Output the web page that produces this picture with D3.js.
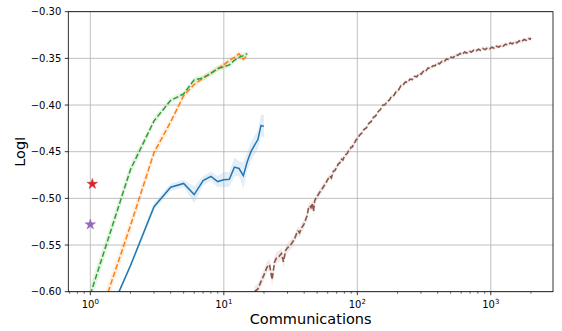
<!DOCTYPE html>
<html><head><meta charset="utf-8">
<script src="https://cdn.jsdelivr.net/npm/d3@7"></script>
<style>body{margin:0;background:#fff}text{font-family:"DejaVu Sans",sans-serif}</style>
</head><body><svg id="c" width="562" height="331"></svg>
<script>
// ---- data ----
const blueC = [1,2,3,4,5,6,7,8,9,10,11,12,13,14,15,16,17,18,19,20];
const blueV = [-0.670,-0.572,-0.509,-0.488,-0.484,-0.496,-0.481,-0.4765,-0.482,-0.480,-0.4795,-0.4665,-0.468,-0.4757,-0.4605,-0.4497,-0.443,-0.437,-0.4218,-0.4229];
const blueS = [0.003,0.003,0.004,0.004,0.004,0.009,0.005,0.005,0.006,0.008,0.008,0.010,0.008,0.014,0.010,0.010,0.010,0.010,0.012,0.012];
const orangeC = [1,2,3,4,5,6,7,8,9,10,11,12,13,14,15];
const orangeV = [-0.657,-0.529,-0.451,-0.418,-0.390,-0.378,-0.371,-0.366,-0.361,-0.357,-0.352,-0.349,-0.345,-0.351,-0.347];
const orangeS = [0.010,0.008,0.006,0.005,0.004,0.003,0.003,0.003,0.003,0.003,0.003,0.003,0.003,0.003,0.003];
const greenC = [1,2,3,4,5,6,7,8,9,10,11,12,13,14,15];
const greenV = [-0.603,-0.469,-0.417,-0.395,-0.388,-0.373,-0.371,-0.366,-0.361,-0.359,-0.357,-0.352,-0.349,-0.347,-0.345];
const greenS = [0.010,0.006,0.004,0.003,0.003,0.003,0.003,0.003,0.003,0.003,0.003,0.003,0.003,0.003,0.003];
const brownC = [
  17,18,19,20,21,22,23,24,25,26,
  27,28,29,30,31,32,33,34,35,36,
  37,38,39,40,41,42,43,44,45,46,
  47,48,49,50,52,54,56,58,
  60,62,64,66,68,70,72,74,76,78,
  80,82,84,86,88,90,92,94,96,98,
  100,104,108,112,117,122,127,132,137,143,
  149,155,161,167,174,181,188,196,204,212,
  220,229,238,248,258,268,279,290,302,314,
  326,339,353,367,382,397,413,430,447,465,
  484,503,523,544,566,589,612,637,662,689,
  716,745,775,806,838,872,907,943,981,1020,
  1060,1100,1150,1200,1240,1290,1340,1400,1450,1510,
  1570,1630,1700,1770,1840,1910,1970,2000];
const brownV = [
  -0.600,-0.597,-0.589,-0.582,-0.574,-0.571,-0.587,-0.568,-0.563,-0.562,
  -0.559,-0.568,-0.556,-0.553,-0.551,-0.549,-0.546,-0.543,-0.538,-0.535,
  -0.537,-0.532,-0.530,-0.527,-0.523,-0.519,-0.511,-0.508,-0.510,-0.505,
  -0.514,-0.502,-0.500,-0.498,-0.494,-0.491,-0.487,-0.484,
  -0.480,-0.476,-0.478,-0.471,-0.470,-0.467,-0.463,-0.462,-0.458,-0.459,
  -0.455,-0.453,-0.452,-0.449,-0.448,-0.445,-0.445,-0.441,-0.440,-0.437,
  -0.4365,-0.4322,-0.4302,-0.4262,-0.4245,-0.4195,-0.4178,-0.4132,-0.4118,-0.4072,
  -0.4048,-0.4002,-0.3998,-0.3962,-0.3948,-0.3902,-0.3898,-0.3852,-0.3838,-0.3792,
  -0.3788,-0.3752,-0.3758,-0.3722,-0.3728,-0.3692,-0.3698,-0.3662,-0.3668,-0.3632,
  -0.3638,-0.3602,-0.3608,-0.3582,-0.3578,-0.3552,-0.3558,-0.3532,-0.3538,-0.3507,
  -0.3513,-0.3487,-0.3493,-0.3462,-0.3468,-0.3447,-0.3458,-0.3432,-0.3443,-0.3422,
  -0.3433,-0.3412,-0.3423,-0.3402,-0.3413,-0.3393,-0.3406,-0.3388,-0.3398,-0.3380,
  -0.3391,-0.3370,-0.3380,-0.3357,-0.3368,-0.3347,-0.3358,-0.3335,-0.3345,-0.3322,
  -0.3333,-0.3312,-0.3323,-0.3297,-0.3306,-0.3284,-0.3295,-0.3282];
const brownS = [
  0.006,0.006,0.006,0.006,0.006,0.006,0.007,0.006,0.006,0.006,
  0.006,0.007,0.005,0.005,0.005,0.005,0.005,0.005,0.005,0.005,
  0.005,0.005,0.005,0.005,0.005,0.005,0.004,0.004,0.004,0.004,
  0.005,0.004,0.004,0.004,0.004,0.004,0.004,0.004,
  0.003,0.003,0.003,0.003,0.003,0.003,0.003,0.003,0.003,0.003,
  0.003,0.003,0.003,0.003,0.003,0.003,0.003,0.003,0.003,0.003,
  0.002,0.002,0.002,0.002,0.002,0.002,0.002,0.002,0.002,0.002,
  0.002,0.002,0.002,0.002,0.002,0.002,0.002,0.002,0.002,0.002,
  0.002,0.002,0.002,0.002,0.002,0.002,0.002,0.002,0.002,0.002,
  0.002,0.002,0.002,0.002,0.002,0.002,0.002,0.002,0.002,0.002,
  0.002,0.002,0.002,0.002,0.002,0.002,0.002,0.002,0.002,0.002,
  0.002,0.002,0.002,0.002,0.002,0.002,0.002,0.002,0.002,0.002,
  0.002,0.002,0.002,0.002,0.002,0.002,0.002,0.002,0.002,0.002,
  0.002,0.002,0.002,0.002,0.002,0.002,0.002,0.002];
const stars = [{c:1.035, v:-0.4846, color:"#d62728"},{c:1.0, v:-0.528, color:"#9467bd"}];
const yTicks = [-0.60,-0.55,-0.50,-0.45,-0.40,-0.35,-0.30];
const xMajor = [1,10,100,1000];
const xExp = ["0","1","2","3"];
const xMinor = [0.7,0.8,0.9,2,3,4,5,6,7,8,9,20,30,40,50,60,70,80,90,200,300,400,500,600,700,800,900,2000];

// ---- layout ----
const L=68.3, R=553, T=11.7, B=291.7;
const svg = d3.select("#c");
const x = d3.scaleLog().domain([Math.pow(10,-0.165), Math.pow(10,3.466)]).range([L,R]);
const y = d3.scaleLinear().domain([-0.60,-0.30]).range([B,T]);

svg.append("defs").append("clipPath").attr("id","clip")
  .append("rect").attr("x",L).attr("y",T).attr("width",R-L).attr("height",B-T);

const plot = svg.append("g").attr("clip-path","url(#clip)");

function series(C,V,S,color,opacity){
  const d = C.map((c,i)=>({c,v:V[i],s:S[i]}));
  plot.append("path").datum(d)
    .attr("d", d3.area().x(p=>x(p.c)).y0(p=>y(p.v-p.s)).y1(p=>y(p.v+p.s)))
    .attr("fill",color).attr("fill-opacity",opacity).attr("stroke","none");
  return d;
}
const bd = series(blueC,blueV,blueS,"#1f77b4",0.12);
const od = series(orangeC,orangeV,orangeS,"#ff7f0e",0.12);
const gd = series(greenC,greenV,greenS,"#2ca02c",0.12);
const brd = series(brownC,brownV,brownS,"#8c564b",0.12);

// grid
const grid = svg.append("g");
xMajor.forEach(t=>grid.append("line").attr("x1",x(t)).attr("x2",x(t)).attr("y1",T).attr("y2",B)
  .attr("stroke","#b0b0b0").attr("stroke-width",0.8));
yTicks.forEach(t=>grid.append("line").attr("x1",L).attr("x2",R).attr("y1",y(t)).attr("y2",y(t))
  .attr("stroke","#b0b0b0").attr("stroke-width",0.8));

const line = d3.line().x(p=>x(p.c)).y(p=>y(p.v));
const lines = svg.append("g").attr("clip-path","url(#clip)");
lines.append("path").datum(bd).attr("d",line).attr("fill","none").attr("stroke","#1f77b4").attr("stroke-width",1.5);
lines.append("path").datum(od).attr("d",line).attr("fill","none").attr("stroke","#ff7f0e").attr("stroke-width",1.5).attr("stroke-dasharray","5.55,2.4");
lines.append("path").datum(gd).attr("d",line).attr("fill","none").attr("stroke","#2ca02c").attr("stroke-width",1.5).attr("stroke-dasharray","5.55,2.4");
stars.forEach(s=>lines.append("path").attr("d",d3.symbol(d3.symbolStar,34)())
  .attr("transform",`translate(${x(s.c)},${y(s.v)})`).attr("fill",s.color).attr("stroke",s.color).attr("stroke-width",0.5));
lines.append("path").datum(brd).attr("d",line).attr("fill","none").attr("stroke","#8c564b").attr("stroke-width",1.6).attr("stroke-dasharray","5.55,2.4");

// axes frame
svg.append("rect").attr("x",L).attr("y",T).attr("width",R-L).attr("height",B-T)
  .attr("fill","none").attr("stroke","#000").attr("stroke-width",0.8);

// y ticks
yTicks.forEach(t=>{
  svg.append("line").attr("x1",L-3.5).attr("x2",L).attr("y1",y(t)).attr("y2",y(t)).attr("stroke","#000").attr("stroke-width",0.8);
  svg.append("text").attr("x",L-7).attr("y",y(t)).attr("dy","0.36em").attr("text-anchor","end")
    .attr("font-size",10).attr("fill","#000").text(d3.format(".2f")(t).replace("-","\u2212"));
});
// x ticks
xMajor.forEach((t,i)=>{
  svg.append("line").attr("x1",x(t)).attr("x2",x(t)).attr("y1",B).attr("y2",B+3.5).attr("stroke","#000").attr("stroke-width",0.8);
  const tx = svg.append("text").attr("x",x(t)).attr("y",308).attr("text-anchor","middle").attr("font-size",10).attr("fill","#000");
  tx.append("tspan").text("10");
  tx.append("tspan").attr("font-size",7).attr("dy",-4).text(xExp[i]);
});
xMinor.forEach(t=>{
  if (x(t)<L || x(t)>R) return;
  svg.append("line").attr("x1",x(t)).attr("x2",x(t)).attr("y1",B).attr("y2",B+2).attr("stroke","#000").attr("stroke-width",0.6);
});

// labels
svg.append("text").attr("x",(L+R)/2).attr("y",324).attr("text-anchor","middle").attr("font-size",14.5).attr("fill","#000").text("Communications");
svg.append("text").attr("transform",`translate(25,${(T+B)/2}) rotate(-90)`).attr("text-anchor","middle").attr("font-size",14.5).attr("fill","#000").text("LogI");
</script></body></html>
